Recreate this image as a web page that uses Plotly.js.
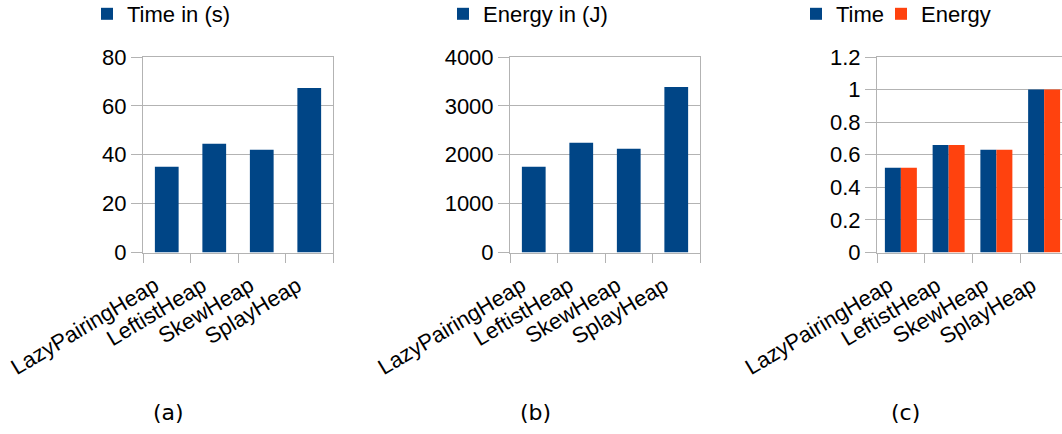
<!DOCTYPE html>
<html>
<head>
<meta charset="utf-8">
<script src="https://cdn.plot.ly/plotly-3.0.1.min.js"></script>
<style>
html, body { margin: 0; padding: 0; overflow: hidden; background: #fff; }
#chart { width: 1075px; height: 434px; }
</style>
</head>
<body>
<div id="chart"></div>
<script>
// ---- data ----
const categories = ['LazyPairingHeap', 'LeftistHeap', 'SkewHeap', 'SplayHeap'];
const timeSec = [35.1, 44.5, 42.0, 67.3];
const energyJ = [1755, 2245, 2122, 3388];
const timeNorm = [0.52, 0.66, 0.63, 1.0];
const energyNorm = [0.52, 0.66, 0.63, 1.0];
const panelLabels = ['(a)', '(b)', '(c)'];
const legendNames = ['Time in (s)', 'Energy in (J)', 'Time', 'Energy'];

// ---- style ----
const W = 1075, H = 434;
const BLUE = '#004586', ORANGE = '#ff420e', GRID = '#b3b3b3';
const FONT = 'Liberation Sans, Arial, sans-serif';
const px = v => v / W;
const py = v => 1 - v / H;

const yDomain = [py(252.5), py(57)];

function xAxis(domain, anchor) {
  return {
    domain: domain, anchor: anchor, type: 'category',
    range: [-0.5, 3.5],
    showgrid: false, showline: true, linecolor: GRID, linewidth: 1,
    mirror: true,
    ticks: 'outside', tickson: 'boundaries', ticklen: 9, tickcolor: GRID, tickwidth: 1,
    tickangle: -31,
    ticklabelshift: -12, ticklabelstandoff: 11,
    tickfont: {family: FONT, size: 22, color: '#000'},
    automargin: false,
    fixedrange: true
  };
}
function yAxis(range, dtick, anchor) {
  return {
    domain: yDomain, anchor: anchor, range: range, dtick: dtick, tick0: 0,
    showgrid: true, gridcolor: GRID, gridwidth: 1,
    showline: true, linecolor: GRID, linewidth: 1, mirror: true,
    zeroline: false,
    ticks: 'outside', ticklen: 11, tickcolor: GRID, tickwidth: 1,
    exponentformat: 'none',
    tickfont: {family: FONT, size: 22, color: '#000'},
    automargin: false,
    fixedrange: true
  };
}

const traces = [
  {type: 'bar', x: categories, y: timeSec, xaxis: 'x', yaxis: 'y',
   name: legendNames[0], marker: {color: BLUE}, width: 0.5, legend: 'legend'},
  {type: 'bar', x: categories, y: energyJ, xaxis: 'x2', yaxis: 'y2',
   name: legendNames[1], marker: {color: BLUE}, width: 0.5, legend: 'legend2'},
  {type: 'bar', x: categories, y: timeNorm, xaxis: 'x3', yaxis: 'y3',
   name: legendNames[2], marker: {color: BLUE}, width: 0.335, offset: -0.335, legend: 'legend3'},
  {type: 'bar', x: categories, y: energyNorm, xaxis: 'x3', yaxis: 'y3',
   name: legendNames[3], marker: {color: ORANGE}, width: 0.335, offset: 0, legend: 'legend4'}
];

function leg(xLeft) {
  return {
    x: px(xLeft), xanchor: 'left', y: py(-7), yanchor: 'top',
    orientation: 'h', bgcolor: 'rgba(0,0,0,0)', borderwidth: 0,
    font: {family: FONT, size: 22, color: '#000'}
  };
}

const labelX = [168, 535, 905];
const layout = {
  width: W, height: H,
  margin: {l: 0, r: 0, t: 0, b: 0, autoexpand: false},
  paper_bgcolor: '#fff', plot_bgcolor: '#fff',
  showlegend: true,
  xaxis: xAxis([px(143), px(333)], 'y'),
  yaxis: yAxis([0, 80], 20, 'x'),
  xaxis2: xAxis([px(510), px(700)], 'y2'),
  yaxis2: yAxis([0, 4000], 1000, 'x2'),
  xaxis3: xAxis([px(877), px(1068)], 'y3'),
  yaxis3: yAxis([0, 1.2], 0.2, 'x3'),
  legend: leg(87),
  legend2: leg(443),
  legend3: leg(796),
  legend4: leg(881),
  annotations: panelLabels.map((t, i) => ({
    text: t, xref: 'paper', yref: 'paper', x: px(labelX[i]), y: py(412),
    xanchor: 'center', yanchor: 'middle', showarrow: false,
    font: {family: 'DejaVu Sans, sans-serif', size: 22, color: '#000'}
  }))
};

Plotly.newPlot('chart', traces, layout, {displayModeBar: false, staticPlot: true});
</script>
</body>
</html>
